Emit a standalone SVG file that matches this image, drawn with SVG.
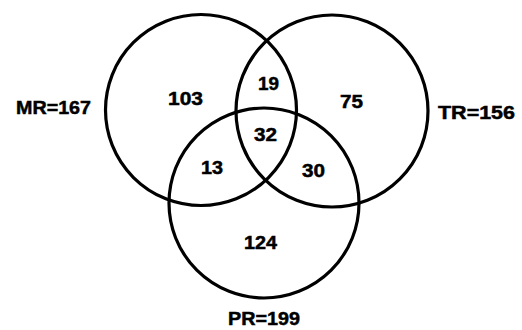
<svg xmlns="http://www.w3.org/2000/svg" width="522" height="330" viewBox="0 0 522 330">
  <style>
    .ring { fill: none; stroke: #000; stroke-width: 3.2; }
    .lbl { font-family: "Liberation Sans", Arial, Helvetica, sans-serif; font-weight: bold; font-size: 19px; fill: #000; stroke: #000; stroke-width: 0.5; }
  </style>
  <rect width="522" height="330" fill="#fff"/>

  <!-- set MR -->
  <g id="set-mr">
    <circle class="ring" cx="201" cy="110" r="95.5"/>
    <text class="lbl" x="16" y="113.5" textLength="75" lengthAdjust="spacingAndGlyphs">MR=167</text>
  </g>

  <!-- set TR -->
  <g id="set-tr">
    <circle class="ring" cx="332" cy="111" r="96"/>
    <text class="lbl" x="438" y="118.5" textLength="77" lengthAdjust="spacingAndGlyphs">TR=156</text>
  </g>

  <!-- set PR -->
  <g id="set-pr">
    <circle class="ring" cx="264" cy="203" r="95"/>
    <text class="lbl" x="228" y="325" textLength="72" lengthAdjust="spacingAndGlyphs">PR=199</text>
  </g>

  <!-- region counts -->
  <g id="counts">
    <text class="lbl" x="168" y="105" textLength="35" lengthAdjust="spacingAndGlyphs">103</text>
    <text class="lbl" x="258" y="90" textLength="21" lengthAdjust="spacingAndGlyphs">19</text>
    <text class="lbl" x="340" y="108" textLength="23" lengthAdjust="spacingAndGlyphs">75</text>
    <text class="lbl" x="254" y="141" textLength="23" lengthAdjust="spacingAndGlyphs">32</text>
    <text class="lbl" x="201" y="174" textLength="22" lengthAdjust="spacingAndGlyphs">13</text>
    <text class="lbl" x="302" y="177" textLength="23" lengthAdjust="spacingAndGlyphs">30</text>
    <text class="lbl" x="244" y="249" textLength="33" lengthAdjust="spacingAndGlyphs">124</text>
  </g>
</svg>
